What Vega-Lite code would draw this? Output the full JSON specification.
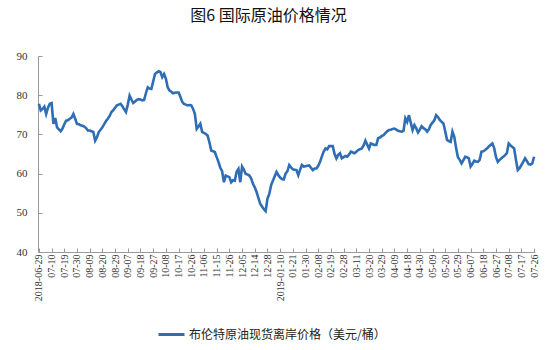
{
"$schema": "https://vega.github.io/schema/vega-lite/v6.json",
"autosize": "none",
"width": 497,
"height": 196,
"padding": {"left": 38, "top": 56, "right": 14, "bottom": 98},
"background": "white",
"title": {"text": "图6 国际原油价格情况", "font": "Noto Sans CJK SC", "fontSize": 16, "fontWeight": "normal", "color": "#111", "anchor": "middle", "frame": "group", "offset": 26, "dx": -18},
"data": {"values": [
{"date":"2018-06-29","price":77.8},{"date":"2018-07-02","price":76.1},{"date":"2018-07-03","price":76.5},{"date":"2018-07-04","price":77.1},{"date":"2018-07-05","price":75.2},{"date":"2018-07-06","price":76.8},{"date":"2018-07-09","price":77.8},{"date":"2018-07-10","price":78.0},{"date":"2018-07-11","price":72.7},{"date":"2018-07-12","price":74.2},{"date":"2018-07-13","price":71.8},{"date":"2018-07-16","price":71.3},{"date":"2018-07-17","price":70.8},{"date":"2018-07-18","price":71.5},{"date":"2018-07-19","price":72.6},{"date":"2018-07-20","price":73.5},{"date":"2018-07-23","price":73.6},{"date":"2018-07-24","price":74.0},{"date":"2018-07-25","price":74.3},{"date":"2018-07-26","price":75.2},{"date":"2018-07-27","price":74.0},{"date":"2018-07-30","price":72.7},{"date":"2018-07-31","price":72.6},{"date":"2018-08-01","price":72.3},{"date":"2018-08-02","price":72.2},{"date":"2018-08-06","price":72.0},{"date":"2018-08-07","price":71.6},{"date":"2018-08-08","price":71.0},{"date":"2018-08-09","price":71.0},{"date":"2018-08-10","price":70.8},{"date":"2018-08-13","price":70.6},{"date":"2018-08-14","price":68.4},{"date":"2018-08-15","price":69.3},{"date":"2018-08-16","price":70.6},{"date":"2018-08-17","price":71.2},{"date":"2018-08-20","price":71.8},{"date":"2018-08-21","price":72.6},{"date":"2018-08-22","price":73.4},{"date":"2018-08-23","price":74.0},{"date":"2018-08-24","price":74.7},{"date":"2018-08-27","price":75.7},{"date":"2018-08-28","price":76.2},{"date":"2018-08-29","price":76.8},{"date":"2018-08-30","price":77.4},{"date":"2018-08-31","price":77.6},{"date":"2018-09-03","price":77.8},{"date":"2018-09-04","price":77.2},{"date":"2018-09-05","price":76.4},{"date":"2018-09-06","price":75.7},{"date":"2018-09-07","price":77.6},{"date":"2018-09-10","price":79.9},{"date":"2018-09-11","price":78.9},{"date":"2018-09-12","price":78.0},{"date":"2018-09-13","price":78.4},{"date":"2018-09-14","price":78.8},{"date":"2018-09-17","price":79.0},{"date":"2018-09-18","price":78.9},{"date":"2018-09-19","price":78.7},{"date":"2018-09-20","price":78.8},{"date":"2018-09-21","price":80.5},{"date":"2018-09-24","price":82.0},{"date":"2018-09-25","price":81.7},{"date":"2018-09-26","price":81.6},{"date":"2018-09-27","price":83.5},{"date":"2018-09-28","price":85.4},{"date":"2018-10-01","price":85.8},{"date":"2018-10-02","price":86.1},{"date":"2018-10-03","price":85.9},{"date":"2018-10-04","price":84.6},{"date":"2018-10-05","price":85.4},{"date":"2018-10-08","price":84.2},{"date":"2018-10-09","price":82.0},{"date":"2018-10-10","price":81.2},{"date":"2018-10-11","price":80.9},{"date":"2018-10-12","price":80.5},{"date":"2018-10-15","price":80.6},{"date":"2018-10-16","price":80.7},{"date":"2018-10-17","price":80.7},{"date":"2018-10-18","price":79.6},{"date":"2018-10-19","price":78.3},{"date":"2018-10-22","price":77.8},{"date":"2018-10-23","price":77.6},{"date":"2018-10-24","price":77.4},{"date":"2018-10-25","price":77.5},{"date":"2018-10-26","price":77.4},{"date":"2018-10-29","price":76.5},{"date":"2018-10-30","price":75.2},{"date":"2018-10-31","price":71.4},{"date":"2018-11-01","price":72.0},{"date":"2018-11-02","price":72.7},{"date":"2018-11-05","price":70.6},{"date":"2018-11-06","price":70.4},{"date":"2018-11-07","price":70.1},{"date":"2018-11-08","price":69.7},{"date":"2018-11-09","price":68.0},{"date":"2018-11-12","price":65.9},{"date":"2018-11-13","price":65.7},{"date":"2018-11-14","price":65.5},{"date":"2018-11-15","price":64.2},{"date":"2018-11-16","price":63.0},{"date":"2018-11-19","price":61.5},{"date":"2018-11-20","price":60.6},{"date":"2018-11-21","price":57.8},{"date":"2018-11-22","price":59.5},{"date":"2018-11-23","price":59.3},{"date":"2018-11-26","price":59.1},{"date":"2018-11-27","price":57.8},{"date":"2018-11-28","price":58.3},{"date":"2018-11-29","price":58.2},{"date":"2018-11-30","price":60.5},{"date":"2018-12-03","price":61.2},{"date":"2018-12-04","price":57.8},{"date":"2018-12-05","price":61.8},{"date":"2018-12-06","price":61.0},{"date":"2018-12-07","price":59.9},{"date":"2018-12-10","price":59.8},{"date":"2018-12-11","price":59.5},{"date":"2018-12-12","price":58.8},{"date":"2018-12-13","price":57.4},{"date":"2018-12-14","price":56.5},{"date":"2018-12-17","price":55.3},{"date":"2018-12-18","price":53.8},{"date":"2018-12-19","price":52.3},{"date":"2018-12-20","price":51.6},{"date":"2018-12-21","price":50.9},{"date":"2018-12-27","price":50.4},{"date":"2018-12-28","price":53.6},{"date":"2019-01-02","price":54.8},{"date":"2019-01-03","price":57.0},{"date":"2019-01-04","price":58.2},{"date":"2019-01-07","price":59.3},{"date":"2019-01-08","price":60.4},{"date":"2019-01-09","price":59.6},{"date":"2019-01-10","price":59.0},{"date":"2019-01-11","price":58.6},{"date":"2019-01-14","price":58.5},{"date":"2019-01-15","price":60.0},{"date":"2019-01-16","price":60.6},{"date":"2019-01-17","price":62.2},{"date":"2019-01-18","price":61.6},{"date":"2019-01-21","price":61.1},{"date":"2019-01-22","price":61.0},{"date":"2019-01-23","price":60.9},{"date":"2019-01-24","price":59.6},{"date":"2019-01-25","price":61.0},{"date":"2019-01-28","price":62.2},{"date":"2019-01-29","price":61.8},{"date":"2019-01-30","price":61.9},{"date":"2019-01-31","price":62.0},{"date":"2019-02-01","price":62.1},{"date":"2019-02-04","price":61.5},{"date":"2019-02-05","price":60.9},{"date":"2019-02-06","price":61.3},{"date":"2019-02-07","price":61.3},{"date":"2019-02-08","price":62.0},{"date":"2019-02-11","price":63.0},{"date":"2019-02-12","price":64.4},{"date":"2019-02-13","price":65.6},{"date":"2019-02-14","price":66.4},{"date":"2019-02-15","price":66.2},{"date":"2019-02-18","price":67.0},{"date":"2019-02-19","price":67.0},{"date":"2019-02-20","price":67.0},{"date":"2019-02-21","price":65.0},{"date":"2019-02-22","price":63.9},{"date":"2019-02-25","price":64.8},{"date":"2019-02-26","price":65.2},{"date":"2019-02-27","price":63.9},{"date":"2019-02-28","price":64.2},{"date":"2019-03-01","price":64.5},{"date":"2019-03-04","price":64.3},{"date":"2019-03-05","price":64.9},{"date":"2019-03-06","price":65.6},{"date":"2019-03-07","price":65.4},{"date":"2019-03-08","price":65.2},{"date":"2019-03-11","price":65.6},{"date":"2019-03-12","price":66.0},{"date":"2019-03-13","price":66.2},{"date":"2019-03-14","price":66.4},{"date":"2019-03-15","price":67.2},{"date":"2019-03-18","price":68.4},{"date":"2019-03-19","price":67.4},{"date":"2019-03-20","price":66.4},{"date":"2019-03-21","price":67.7},{"date":"2019-03-22","price":67.5},{"date":"2019-03-25","price":67.3},{"date":"2019-03-26","price":67.3},{"date":"2019-03-27","price":69.0},{"date":"2019-03-28","price":69.2},{"date":"2019-03-29","price":69.6},{"date":"2019-04-01","price":69.8},{"date":"2019-04-02","price":70.3},{"date":"2019-04-03","price":70.8},{"date":"2019-04-04","price":71.1},{"date":"2019-04-05","price":71.2},{"date":"2019-04-08","price":71.4},{"date":"2019-04-09","price":71.5},{"date":"2019-04-10","price":71.2},{"date":"2019-04-11","price":70.9},{"date":"2019-04-12","price":70.8},{"date":"2019-04-15","price":70.7},{"date":"2019-04-16","price":70.9},{"date":"2019-04-17","price":74.1},{"date":"2019-04-18","price":73.2},{"date":"2019-04-22","price":74.9},{"date":"2019-04-23","price":73.0},{"date":"2019-04-24","price":71.1},{"date":"2019-04-25","price":72.4},{"date":"2019-04-26","price":71.6},{"date":"2019-04-29","price":70.5},{"date":"2019-04-30","price":71.2},{"date":"2019-05-01","price":72.1},{"date":"2019-05-02","price":71.6},{"date":"2019-05-03","price":71.3},{"date":"2019-05-06","price":70.7},{"date":"2019-05-07","price":71.3},{"date":"2019-05-08","price":72.4},{"date":"2019-05-09","price":73.0},{"date":"2019-05-10","price":73.6},{"date":"2019-05-13","price":74.9},{"date":"2019-05-14","price":74.4},{"date":"2019-05-15","price":73.7},{"date":"2019-05-16","price":73.2},{"date":"2019-05-17","price":72.8},{"date":"2019-05-20","price":70.8},{"date":"2019-05-21","price":68.6},{"date":"2019-05-22","price":68.3},{"date":"2019-05-23","price":68.1},{"date":"2019-05-24","price":70.7},{"date":"2019-05-27","price":69.4},{"date":"2019-05-28","price":66.5},{"date":"2019-05-29","price":64.2},{"date":"2019-05-30","price":63.5},{"date":"2019-05-31","price":62.6},{"date":"2019-06-03","price":63.4},{"date":"2019-06-04","price":64.3},{"date":"2019-06-05","price":64.2},{"date":"2019-06-06","price":63.9},{"date":"2019-06-07","price":61.8},{"date":"2019-06-10","price":62.5},{"date":"2019-06-11","price":63.3},{"date":"2019-06-12","price":63.1},{"date":"2019-06-13","price":63.0},{"date":"2019-06-14","price":63.5},{"date":"2019-06-17","price":65.6},{"date":"2019-06-18","price":65.7},{"date":"2019-06-19","price":66.0},{"date":"2019-06-20","price":66.4},{"date":"2019-06-21","price":66.9},{"date":"2019-06-24","price":67.3},{"date":"2019-06-25","price":67.7},{"date":"2019-06-26","price":66.5},{"date":"2019-06-27","price":64.2},{"date":"2019-06-28","price":63.0},{"date":"2019-07-01","price":63.5},{"date":"2019-07-02","price":63.9},{"date":"2019-07-03","price":64.3},{"date":"2019-07-04","price":64.7},{"date":"2019-07-05","price":65.2},{"date":"2019-07-08","price":67.7},{"date":"2019-07-09","price":67.2},{"date":"2019-07-10","price":66.8},{"date":"2019-07-11","price":66.4},{"date":"2019-07-12","price":63.5},{"date":"2019-07-15","price":60.9},{"date":"2019-07-16","price":61.4},{"date":"2019-07-17","price":62.2},{"date":"2019-07-18","price":63.0},{"date":"2019-07-19","price":63.9},{"date":"2019-07-22","price":63.2},{"date":"2019-07-23","price":62.4},{"date":"2019-07-24","price":62.3},{"date":"2019-07-25","price":62.6},{"date":"2019-07-26","price":64.3}
]},
"mark": {"type": "line", "strokeWidth": 2.6},
"encoding": {
"x": {"field": "date", "type": "ordinal", "scale": {"type": "point", "padding": 0.5},
 "axis": {"title": null, "values": ["2018-06-29","2018-07-10","2018-07-19","2018-07-30","2018-08-09","2018-08-20","2018-08-29","2018-09-07","2018-09-18","2018-09-27","2018-10-08","2018-10-17","2018-10-26","2018-11-06","2018-11-15","2018-11-26","2018-12-05","2018-12-14","2018-12-28","2019-01-10","2019-01-21","2019-01-30","2019-02-08","2019-02-19","2019-02-28","2019-03-11","2019-03-20","2019-03-29","2019-04-09","2019-04-18","2019-04-30","2019-05-09","2019-05-20","2019-05-29","2019-06-07","2019-06-18","2019-06-27","2019-07-08","2019-07-17","2019-07-26"],
 "labelExpr": "datum.value == '2018-06-29' || datum.value == '2019-01-10' ? datum.value : substring(datum.value, 5)",
 "labelAngle": 270, "labelFont": "Liberation Serif", "labelFontSize": 10, "labelColor": "#333", "labelPadding": 6,
 "tickSize": -4, "tickColor": "#999", "domainColor": "#999", "labelOverlap": false, "grid": false}},
"y": {"field": "price", "type": "quantitative", "scale": {"domain": [40, 90], "nice": false, "zero": false},
 "axis": {"title": null, "values": [40, 50, 60, 70, 80, 90], "labelFont": "Liberation Serif", "labelFontSize": 11, "labelColor": "#333", "labelPadding": 15, "tickSize": -4, "tickColor": "#999", "domainColor": "#999", "grid": false}},
"color": {"datum": "布伦特原油现货离岸价格（美元/桶）", "scale": {"range": ["#2f6db5"]},
 "legend": {"title": null, "orient": "none", "legendX": 119, "legendY": 264, "symbolType": "stroke", "symbolStrokeWidth": 3, "symbolSize": 676, "labelFont": "Noto Sans CJK SC", "labelFontSize": 12, "labelColor": "#222", "labelOffset": 3, "labelLimit": 400}}
},
"config": {"view": {"stroke": null}}
}
